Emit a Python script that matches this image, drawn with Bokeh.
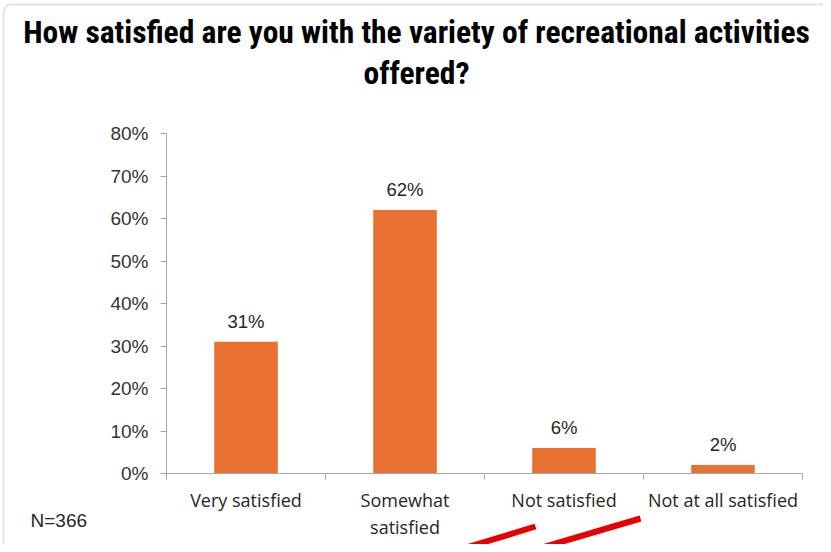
from bokeh.plotting import figure
from bokeh.models import (ColumnDataSource, FixedTicker, NumeralTickFormatter, Label,
                          LabelSet, BoxAnnotation, Arrow, LinearAxis, Range1d)
from bokeh.core.properties import value
from bokeh.embed import file_html
from bokeh.resources import INLINE

categories = ["Very satisfied", "Somewhat\nsatisfied", "Not satisfied", "Not at all satisfied"]
values = [0.31, 0.62, 0.06, 0.02]
value_labels = ["31%", "62%", "6%", "2%"]
y_ticks = [0.0, 0.1, 0.2, 0.3, 0.4, 0.5, 0.6, 0.7, 0.8]
y_max = 0.8
title_lines = ["How satisfied are you with the variety of recreational activities", "offered?"]
note = "N=366"

# ---- layout (canvas pixels) ----
W, H = 823, 544
X0_PX, X1_PX = 166, 802      # canvas x of first / last category boundary
Y0_PX, Y1_PX = 473, 133      # canvas y of 0 and of y_max

n = len(categories)
centers = [i + 0.5 for i in range(n)]
bounds = [float(i) for i in range(n + 1)]

xs = (X1_PX - X0_PX) / n
ys = (Y0_PX - Y1_PX) / y_max
x_range = Range1d(-X0_PX / xs, (W - X0_PX) / xs)
y_range = Range1d(-(H - Y0_PX) / ys, Y0_PX / ys)

src = ColumnDataSource(dict(x=centers, top=values, lab=value_labels))

p = figure(width=W, height=H, output_backend="svg", toolbar_location=None,
           x_range=x_range, y_range=y_range,
           x_axis_location=None, y_axis_location=None,
           min_border=0)
p.outline_line_color = None
p.grid.grid_line_color = None
p.background_fill_color = "white"
p.border_fill_color = "white"

p.vbar(x="x", top="top", width=0.4, bottom=0, source=src, fill_color="#E97132", line_color=None)

axis_col = "#A6A6A6"

yax = LinearAxis(ticker=FixedTicker(ticks=y_ticks, minor_ticks=[]),
                 formatter=NumeralTickFormatter(format="0%"),
                 fixed_location=0, bounds=(0, y_max))
yax.axis_line_color = axis_col
yax.major_tick_line_color = axis_col
yax.major_tick_out = 6
yax.major_tick_in = 0
yax.minor_tick_line_color = None
yax.major_label_text_font = "Liberation Sans"
yax.major_label_text_font_size = "19px"
yax.major_label_text_color = "#333333"
yax.major_label_standoff = 12
p.add_layout(yax, "left")

xax = LinearAxis(ticker=FixedTicker(ticks=centers, minor_ticks=bounds),
                 fixed_location=0, bounds=(0, n))
xax.major_label_overrides = {c: lab for c, lab in zip(centers, categories)}
xax.axis_line_color = axis_col
xax.major_tick_line_color = None
xax.major_tick_out = 0
xax.major_tick_in = 0
xax.minor_tick_line_color = axis_col
xax.minor_tick_out = 6
xax.minor_tick_in = 0
xax.major_label_text_font = "Open Sans"
xax.major_label_text_font_size = "18px"
xax.major_label_text_color = "#262626"
xax.major_label_standoff = 8
xax.major_label_text_line_height = 1.15
p.add_layout(xax, "below")

p.add_layout(LabelSet(x="x", y="top", text="lab", source=src, text_align="center",
                      y_offset=10, text_font=value("Liberation Sans"),
                      text_font_size=value("18.5px"), text_color=value("#262626")))

# chart border
p.add_layout(BoxAnnotation(left=3, right=W + 20, top=4, bottom=H + 5,
                           left_units="canvas", right_units="canvas",
                           top_units="canvas", bottom_units="canvas",
                           fill_alpha=0, line_color="#A0A0A0", line_width=2,
                           border_radius=8))

for i, t in enumerate(title_lines):
    p.add_layout(Label(x=416, y=32 + 41 * i, x_units="canvas", y_units="canvas", text=t,
                       text_align="center", text_baseline="middle",
                       text_font="Roboto Condensed", text_font_style="bold",
                       text_font_size="31.5px", text_color="black"))

p.add_layout(Label(x=30, y=520, x_units="canvas", y_units="canvas", text=note,
                   text_baseline="middle", text_font="Liberation Sans",
                   text_font_size="19px", text_color="#262626"))

# red annotation strokes
for (x0, y0, x1, y1) in [(443, 554, 535, 526), (518, 554, 640, 518)]:
    p.add_layout(Arrow(end=None, x_start=x0, y_start=y0, x_end=x1, y_end=y1,
                       start_units="canvas", end_units="canvas",
                       line_color="#E60000", line_width=6))

open("out.html", "w").write(file_html(p, INLINE))
